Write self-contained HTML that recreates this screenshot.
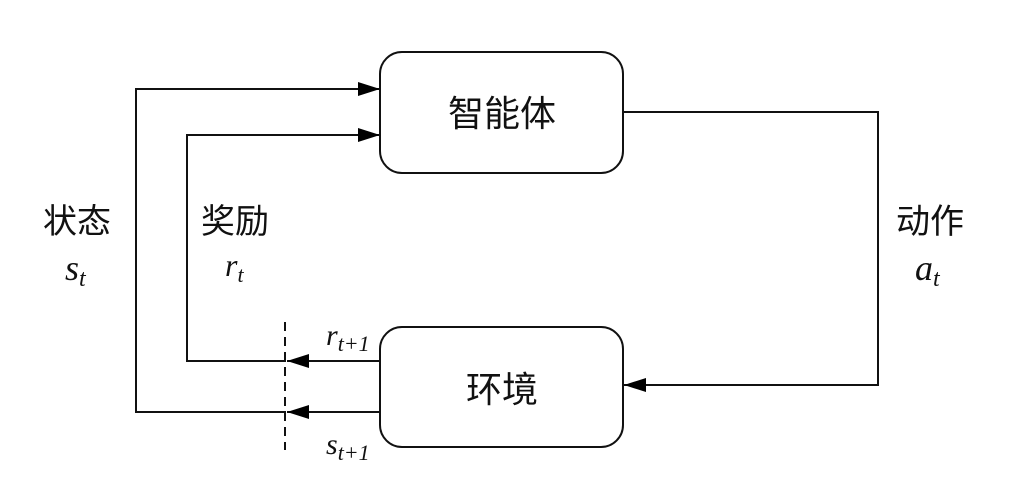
<!DOCTYPE html>
<html><head><meta charset="utf-8"><style>
html,body{margin:0;padding:0;background:#fff;}
svg{display:block;}
.cjk{font-family:"Liberation Sans","Noto Sans CJK SC",sans-serif;fill:#111;}
.m{font-family:"Liberation Serif",serif;font-style:italic;fill:#111;}
</style></head><body>
<svg width="1019" height="478" viewBox="0 0 1019 478" xmlns="http://www.w3.org/2000/svg">
<defs><marker id="a" markerWidth="10" markerHeight="8" refX="10" refY="4" orient="auto" markerUnits="userSpaceOnUse" viewBox="0 0 10 8"><path d="M0,0 L10,4 L0,8 z" fill="#000"/></marker>
<marker id="b" markerWidth="22" markerHeight="14" refX="22" refY="7" orient="auto" markerUnits="userSpaceOnUse" viewBox="0 0 22 14"><path d="M0,0 L22,7 L0,14 z" fill="#000"/></marker></defs>
<g stroke="#111" stroke-width="2" fill="none">
<rect x="380" y="52" width="243" height="121" rx="22"/>
<rect x="380" y="327" width="243" height="120" rx="22"/>
<polyline points="286,412 136,412 136,89 380,89" marker-end="url(#b)"/>
<polyline points="286,361 187,361 187,135 380,135" marker-end="url(#b)"/>
<line x1="380" y1="361" x2="287" y2="361" marker-end="url(#b)"/>
<line x1="380" y1="412" x2="287" y2="412" marker-end="url(#b)"/>
<polyline points="623,112 878,112 878,385 624,385" marker-end="url(#b)"/>
<line x1="285" y1="322" x2="285" y2="450" stroke-dasharray="9,6"/>
</g>
<text class="cjk" x="502" y="126" font-size="36" text-anchor="middle">智能体</text>
<text class="cjk" x="502" y="402" font-size="36" text-anchor="middle">环境</text>
<text class="cjk" x="77" y="233" font-size="34" text-anchor="middle">状态</text>
<text class="cjk" x="235" y="233" font-size="34" text-anchor="middle">奖励</text>
<text class="cjk" x="930" y="233" font-size="34" text-anchor="middle">动作</text>
<text class="m" x="65" y="280" font-size="36">s<tspan font-size="24" dy="6">t</tspan></text>
<text class="m" x="225" y="276" font-size="32">r<tspan font-size="22" dy="6">t</tspan></text>
<text class="m" x="915" y="280" font-size="36">a<tspan font-size="24" dy="6">t</tspan></text>
<text class="m" x="326" y="345" font-size="30">r<tspan font-size="22" dy="6">t+1</tspan></text>
<text class="m" x="326" y="454" font-size="30">s<tspan font-size="22" dy="6">t+1</tspan></text>
</svg>
</body></html>
